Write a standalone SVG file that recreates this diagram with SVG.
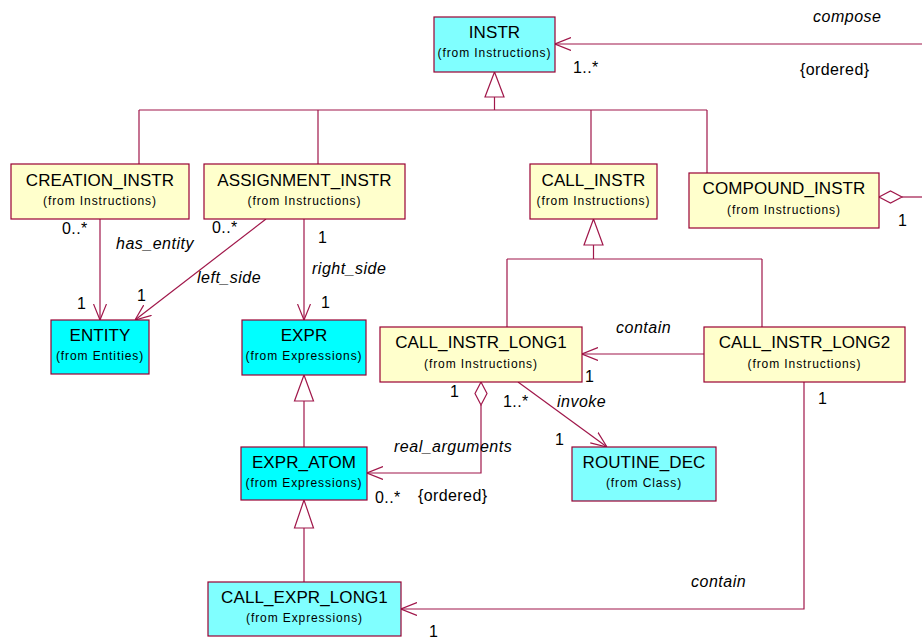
<svg xmlns="http://www.w3.org/2000/svg" width="922" height="640" viewBox="0 0 922 640">
  <style>
    .box { stroke: #990033; stroke-width: 1.2; }
    .yel { fill: #FFFFCC; }
    .cyan { fill: #00FFFF; }
    .lcyan { fill: #80FFFF; }
    .name { font-family: "Liberation Sans", Arial, sans-serif; font-size: 17px; letter-spacing: 0.1px; text-anchor: middle; fill: #000; }
    .from { font-family: "Liberation Sans", Arial, sans-serif; font-size: 12px; letter-spacing: 0.9px; text-anchor: middle; fill: #000; }
    .lbl { font-family: "Liberation Sans", Arial, sans-serif; font-size: 16px; font-style: italic; letter-spacing: 0.5px; fill: #000; }
    .txt { font-family: "Liberation Sans", Arial, sans-serif; font-size: 16px; letter-spacing: 0.4px; fill: #000; }
    .line { fill: none; stroke: #A0174A; stroke-width: 1.2; }
    .tri { fill: #FFFFFF; stroke: #A0174A; stroke-width: 1.2; }
  </style>
  <defs>
    <marker id="open" viewBox="0 0 16 14" refX="16" refY="7" markerWidth="16" markerHeight="14" markerUnits="userSpaceOnUse" orient="auto">
      <path d="M0,0.5 L16,7 L0,13.5" fill="none" stroke="#A0174A" stroke-width="1.2"/>
    </marker>
  </defs>

  <rect width="922" height="640" fill="#FFFFFF"/>

  <!-- connectors -->
  <g id="connectors">
    <!-- inheritance tree under INSTR -->
    <polygon class="tri" points="494.5,72 485,97 504,97"/>
    <path class="line" d="M494.5,97 V110 M139,110 H707 M139,110 V164 M318,110 V164 M591,110 V164 M707,110 V173"/>
    <!-- inheritance tree under CALL_INSTR -->
    <polygon class="tri" points="593.5,219 584,245 603,245"/>
    <path class="line" d="M593.5,245 V259 M507,259 H762 M507,259 V327 M762,259 V327"/>
    <!-- EXPR_ATOM is an EXPR -->
    <polygon class="tri" points="304,375 294.5,401 313.5,401"/>
    <path class="line" d="M304,401 V447"/>
    <!-- CALL_EXPR_LONG1 is an EXPR_ATOM -->
    <polygon class="tri" points="304,500 294.5,528 313.5,528"/>
    <path class="line" d="M304,528 V582"/>

    <!-- associations -->
    <path class="line" d="M922,44 H555" marker-end="url(#open)"/>
    <path class="line" d="M100,219 V320" marker-end="url(#open)"/>
    <path class="line" d="M266,219 L135,320" marker-end="url(#open)"/>
    <path class="line" d="M304,219 V320" marker-end="url(#open)"/>
    <path class="line" d="M704,354 H582" marker-end="url(#open)"/>
    <path class="line" d="M518,382 L607,447" marker-end="url(#open)"/>
    <path class="line" d="M804,382 V609 H401" marker-end="url(#open)"/>
    <!-- aggregations -->
    <polygon class="tri" points="879,197 890.5,191 902,197 890.5,203"/>
    <path class="line" d="M902,197 H922"/>
    <polygon class="tri" points="481,382 487,393.5 481,405 475,393.5"/>
    <path class="line" d="M481,405 V473 H367" marker-end="url(#open)"/>

    <!-- connector labels -->
    <text class="lbl" x="813" y="22">compose</text>
    <text class="txt" x="573" y="73">1..*</text>
    <text class="txt" x="800" y="75">{ordered}</text>
    <text class="txt" x="898" y="226">1</text>

    <text class="txt" x="62" y="234">0..*</text>
    <text class="lbl" x="116" y="249">has_entity</text>
    <text class="txt" x="77" y="309">1</text>

    <text class="txt" x="212" y="233">0..*</text>
    <text class="lbl" x="197" y="283">left_side</text>
    <text class="txt" x="137" y="301">1</text>

    <text class="txt" x="318" y="243">1</text>
    <text class="lbl" x="312" y="274">right_side</text>
    <text class="txt" x="321" y="308">1</text>

    <text class="lbl" x="616" y="333">contain</text>
    <text class="txt" x="585" y="382">1</text>
    <text class="txt" x="818" y="404">1</text>

    <text class="txt" x="450" y="397">1</text>
    <text class="txt" x="503" y="407">1..*</text>
    <text class="lbl" x="557" y="407">invoke</text>
    <text class="txt" x="555" y="445">1</text>

    <text class="lbl" x="394" y="452">real_arguments</text>
    <text class="txt" x="375" y="503">0..*</text>
    <text class="txt" x="418" y="501">{ordered}</text>

    <text class="lbl" x="691" y="587">contain</text>
    <text class="txt" x="429" y="637">1</text>
  </g>

  <!-- classes -->
  <g id="INSTR">
    <rect class="box lcyan" x="434" y="17" width="121" height="55"/>
    <text class="name" x="494.5" y="38">INSTR</text>
    <text class="from" x="494.5" y="57">(from Instructions)</text>
  </g>
  <g id="CREATION_INSTR">
    <rect class="box yel" x="11" y="164" width="178" height="55"/>
    <text class="name" x="100" y="186">CREATION_INSTR</text>
    <text class="from" x="100" y="205">(from Instructions)</text>
  </g>
  <g id="ASSIGNMENT_INSTR">
    <rect class="box yel" x="204" y="164" width="201" height="55"/>
    <text class="name" x="304.5" y="186">ASSIGNMENT_INSTR</text>
    <text class="from" x="304.5" y="205">(from Instructions)</text>
  </g>
  <g id="CALL_INSTR">
    <rect class="box yel" x="530" y="164" width="127" height="55"/>
    <text class="name" x="593.5" y="186">CALL_INSTR</text>
    <text class="from" x="593.5" y="205">(from Instructions)</text>
  </g>
  <g id="COMPOUND_INSTR">
    <rect class="box yel" x="689" y="173" width="190" height="55"/>
    <text class="name" x="784" y="194">COMPOUND_INSTR</text>
    <text class="from" x="784" y="214">(from Instructions)</text>
  </g>
  <g id="ENTITY">
    <rect class="box cyan" x="51" y="320" width="98" height="54"/>
    <text class="name" x="100" y="341">ENTITY</text>
    <text class="from" x="100" y="360">(from Entities)</text>
  </g>
  <g id="EXPR">
    <rect class="box cyan" x="242" y="320" width="124" height="55"/>
    <text class="name" x="304" y="341">EXPR</text>
    <text class="from" x="304" y="360">(from Expressions)</text>
  </g>
  <g id="CALL_INSTR_LONG1">
    <rect class="box yel" x="380" y="327" width="202" height="55"/>
    <text class="name" x="481" y="348">CALL_INSTR_LONG1</text>
    <text class="from" x="481" y="368">(from Instructions)</text>
  </g>
  <g id="CALL_INSTR_LONG2">
    <rect class="box yel" x="704" y="327" width="201" height="55"/>
    <text class="name" x="804.5" y="348">CALL_INSTR_LONG2</text>
    <text class="from" x="804.5" y="368">(from Instructions)</text>
  </g>
  <g id="EXPR_ATOM">
    <rect class="box cyan" x="241" y="447" width="126" height="53"/>
    <text class="name" x="304" y="468">EXPR_ATOM</text>
    <text class="from" x="304" y="487">(from Expressions)</text>
  </g>
  <g id="ROUTINE_DEC">
    <rect class="box lcyan" x="572" y="447" width="144" height="54"/>
    <text class="name" x="644" y="468">ROUTINE_DEC</text>
    <text class="from" x="644" y="487">(from Class)</text>
  </g>
  <g id="CALL_EXPR_LONG1">
    <rect class="box lcyan" x="208" y="582" width="193" height="54"/>
    <text class="name" x="304.5" y="603">CALL_EXPR_LONG1</text>
    <text class="from" x="304.5" y="622">(from Expressions)</text>
  </g>
</svg>
